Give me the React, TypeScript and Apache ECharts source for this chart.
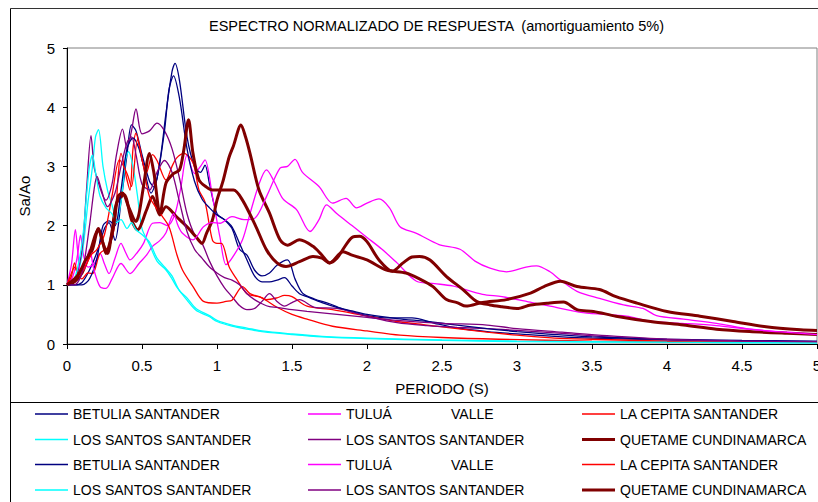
import { useEffect, useRef } from "react";
import * as echarts from "echarts";

// Normalised response spectra (5% damping): [period (s), Sa/Ao]
const betulia1: [number, number][] = [
  [0, 1.0], [0.05, 1.0], [0.1, 1.04], [0.15, 1.25], [0.2, 1.55], [0.25, 1.95], [0.28, 2.05], [0.32, 1.75],
  [0.36, 2.4], [0.4, 3.2], [0.43, 3.7], [0.46, 3.6], [0.5, 3.2], [0.55, 2.75], [0.58, 2.65], [0.62, 3.1],
  [0.66, 3.9], [0.7, 4.6], [0.72, 4.74], [0.75, 4.45], [0.8, 3.5], [0.85, 3.0], [0.89, 2.9], [0.92, 3.02],
  [0.95, 2.7], [1.0, 2.2], [1.05, 2.1], [1.1, 1.95], [1.15, 1.6], [1.2, 1.5], [1.25, 1.25], [1.3, 1.15],
  [1.35, 1.2], [1.4, 1.33], [1.47, 1.42], [1.52, 1.1], [1.57, 0.86], [1.65, 0.76], [1.75, 0.68], [1.85, 0.58],
  [2.0, 0.48], [2.15, 0.44], [2.3, 0.44], [2.45, 0.35], [2.6, 0.27], [2.8, 0.21], [3.0, 0.17], [3.25, 0.13],
  [3.5, 0.1], [4.0, 0.07], [4.5, 0.05], [5.0, 0.04],
];
const betulia2: [number, number][] = [
  [0, 1.0], [0.05, 1.0], [0.1, 1.0], [0.15, 1.1], [0.2, 1.45], [0.24, 2.0], [0.28, 2.08], [0.32, 2.0],
  [0.36, 2.6], [0.4, 3.3], [0.44, 3.48], [0.48, 3.3], [0.52, 2.9], [0.56, 2.55], [0.6, 2.8], [0.65, 3.6],
  [0.68, 4.3], [0.71, 4.53], [0.75, 4.15], [0.8, 3.3], [0.85, 2.75], [0.9, 2.45], [0.95, 2.3], [1.0, 2.18],
  [1.05, 2.1], [1.1, 1.98], [1.15, 1.7], [1.2, 1.42], [1.25, 1.15], [1.3, 1.05], [1.35, 1.05], [1.4, 1.08],
  [1.45, 1.12], [1.5, 0.98], [1.55, 0.85], [1.6, 0.8], [1.7, 0.7], [1.8, 0.62], [1.9, 0.56], [2.0, 0.5],
  [2.2, 0.43], [2.4, 0.38], [2.6, 0.32], [2.8, 0.26], [3.0, 0.21], [3.25, 0.16], [3.5, 0.12], [4.0, 0.08],
  [4.5, 0.06], [5.0, 0.05],
];
const tulua1: [number, number][] = [
  [0, 1.0], [0.04, 1.15], [0.07, 1.5], [0.09, 1.84], [0.11, 1.5], [0.14, 1.3], [0.18, 1.35], [0.22, 1.53],
  [0.25, 1.35], [0.28, 1.19], [0.32, 1.45], [0.36, 1.7], [0.39, 1.55], [0.42, 1.42], [0.47, 1.55], [0.51, 1.7],
  [0.57, 2.04], [0.62, 2.05], [0.67, 2.0], [0.72, 2.2], [0.76, 2.66], [0.8, 3.19], [0.85, 2.88], [0.89, 3.0],
  [0.92, 3.11], [0.97, 2.49], [1.02, 1.8], [1.06, 1.34], [1.1, 1.45], [1.17, 1.76], [1.22, 2.2], [1.28, 2.7],
  [1.33, 2.94], [1.38, 2.75], [1.44, 2.45], [1.53, 2.27], [1.62, 1.9], [1.68, 2.1], [1.73, 2.35], [1.8, 2.2],
  [1.9, 2.0], [2.0, 1.8], [2.1, 1.6], [2.2, 1.37], [2.33, 1.06], [2.45, 1.02], [2.57, 0.98], [2.77, 0.84],
  [2.9, 0.8], [3.1, 0.7], [3.22, 0.64], [3.44, 0.53], [3.73, 0.47], [3.9, 0.38], [4.1, 0.35], [4.33, 0.31],
  [4.55, 0.25], [4.8, 0.2], [5.0, 0.17],
];
const tulua2: [number, number][] = [
  [0, 1.0], [0.03, 1.35], [0.056, 1.93], [0.07, 1.6], [0.09, 1.2], [0.12, 1.3], [0.15, 1.6], [0.18, 1.25],
  [0.22, 0.97], [0.26, 0.94], [0.3, 1.1], [0.36, 1.36], [0.42, 1.19], [0.48, 1.36], [0.53, 1.5], [0.57, 1.65],
  [0.62, 1.75], [0.66, 1.88], [0.69, 2.1], [0.71, 2.2], [0.74, 2.0], [0.77, 1.87], [0.84, 1.76], [0.91, 1.98],
  [0.97, 2.05], [1.02, 2.04], [1.1, 2.15], [1.18, 2.1], [1.25, 2.12], [1.33, 2.49], [1.42, 2.97], [1.47, 3.0],
  [1.52, 3.12], [1.57, 2.9], [1.68, 2.66], [1.77, 2.38], [1.86, 2.46], [1.93, 2.3], [2.0, 2.38], [2.08, 2.45],
  [2.15, 2.3], [2.22, 1.98], [2.33, 1.87], [2.48, 1.68], [2.62, 1.6], [2.72, 1.4], [2.82, 1.28], [2.93, 1.22],
  [3.06, 1.3], [3.13, 1.32], [3.22, 1.22], [3.29, 1.08], [3.4, 0.89], [3.55, 0.77], [3.71, 0.66], [3.84, 0.6],
  [3.93, 0.48], [4.11, 0.42], [4.33, 0.35], [4.55, 0.25], [4.78, 0.2], [5.0, 0.16],
];
const cepita1: [number, number][] = [
  [0, 1.0], [0.03, 1.15], [0.05, 1.37], [0.07, 1.2], [0.1, 1.1], [0.14, 1.2], [0.17, 1.19], [0.22, 1.53],
  [0.28, 1.65], [0.32, 2.04], [0.34, 2.8], [0.36, 3.22], [0.4, 2.77], [0.42, 2.6], [0.44, 3.3], [0.46, 3.56],
  [0.5, 3.11], [0.53, 2.9], [0.57, 3.2], [0.6, 3.1], [0.66, 2.77], [0.7, 3.0], [0.73, 3.14], [0.78, 3.22],
  [0.84, 3.06], [0.88, 2.6], [0.92, 2.4], [0.97, 1.75], [1.0, 1.7], [1.03, 1.7], [1.08, 1.31], [1.13, 1.1],
  [1.2, 0.85], [1.28, 0.8], [1.33, 0.75], [1.4, 0.78], [1.45, 0.82], [1.5, 0.8], [1.6, 0.64], [1.77, 0.58],
  [2.0, 0.47], [2.2, 0.38], [2.4, 0.32], [2.6, 0.26], [2.8, 0.2], [3.0, 0.15], [3.25, 0.1], [3.5, 0.08],
  [4.0, 0.05], [4.5, 0.04], [5.0, 0.03],
];
const cepita2: [number, number][] = [
  [0, 1.0], [0.03, 1.2], [0.05, 1.3], [0.08, 1.15], [0.12, 1.3], [0.16, 1.5], [0.2, 1.6], [0.25, 1.85],
  [0.3, 2.5], [0.35, 3.11], [0.4, 2.88], [0.43, 2.66], [0.47, 3.45], [0.51, 3.0], [0.55, 2.49], [0.62, 2.21],
  [0.68, 1.98], [0.73, 1.53], [0.77, 1.25], [0.84, 0.97], [0.91, 0.72], [1.0, 0.69], [1.06, 0.72], [1.1, 0.74],
  [1.17, 0.97], [1.22, 0.85], [1.3, 0.78], [1.4, 0.62], [1.5, 0.5], [1.6, 0.42], [1.77, 0.3], [2.0, 0.22],
  [2.22, 0.15], [2.5, 0.11], [2.88, 0.08], [3.5, 0.05], [4.0, 0.04], [5.0, 0.03],
];
const santosCyan1: [number, number][] = [
  [0, 1.0], [0.05, 1.05], [0.1, 1.5], [0.14, 2.4], [0.17, 3.0], [0.19, 3.5], [0.21, 3.62], [0.24, 3.0],
  [0.27, 2.6], [0.3, 2.35], [0.33, 2.1], [0.36, 2.4], [0.39, 3.1], [0.41, 3.25], [0.44, 3.0], [0.47, 2.5],
  [0.5, 1.95], [0.55, 1.68], [0.6, 1.4], [0.66, 1.25], [0.7, 1.1], [0.73, 0.97], [0.8, 0.74], [0.86, 0.57],
  [0.95, 0.46], [1.0, 0.38], [1.1, 0.3], [1.2, 0.25], [1.3, 0.21], [1.5, 0.16], [1.7, 0.12], [2.0, 0.09],
  [2.5, 0.06], [3.0, 0.04], [4.0, 0.03], [5.0, 0.02],
];
const santosCyan2: [number, number][] = [
  [0, 1.0], [0.05, 1.1], [0.1, 1.7], [0.13, 2.5], [0.15, 3.0], [0.17, 3.19], [0.19, 2.9], [0.22, 2.5],
  [0.26, 2.3], [0.3, 2.2], [0.33, 2.05], [0.36, 2.1], [0.4, 1.95], [0.43, 2.05], [0.46, 1.93], [0.5, 1.85],
  [0.55, 1.72], [0.6, 1.45], [0.65, 1.3], [0.7, 1.15], [0.75, 0.9], [0.8, 0.78], [0.86, 0.6], [0.95, 0.48],
  [1.0, 0.4], [1.1, 0.32], [1.2, 0.27], [1.3, 0.22], [1.5, 0.17], [1.7, 0.13], [2.0, 0.1], [2.5, 0.07],
  [3.0, 0.05], [4.0, 0.03], [5.0, 0.02],
];
const santosPurple1: [number, number][] = [
  [0, 1.0], [0.05, 1.05], [0.1, 1.6], [0.13, 2.6], [0.16, 3.52], [0.18, 3.0], [0.2, 2.8], [0.24, 2.5],
  [0.26, 2.43], [0.3, 2.7], [0.33, 3.2], [0.37, 3.63], [0.4, 3.3], [0.43, 3.6], [0.46, 3.97], [0.5, 3.55],
  [0.55, 3.6], [0.6, 3.73], [0.65, 3.6], [0.7, 3.3], [0.75, 2.8], [0.8, 2.2], [0.85, 1.85], [0.9, 1.7],
  [0.95, 1.4], [1.0, 1.15], [1.05, 0.95], [1.1, 0.8], [1.15, 0.65], [1.2, 0.58], [1.25, 0.6], [1.3, 0.72],
  [1.35, 0.85], [1.4, 0.72], [1.45, 0.64], [1.5, 0.7], [1.55, 0.75], [1.65, 0.62], [1.8, 0.6], [2.0, 0.47],
  [2.2, 0.36], [2.4, 0.31], [2.6, 0.28], [2.8, 0.26], [3.0, 0.23], [3.3, 0.18], [3.6, 0.12], [4.0, 0.07],
  [4.5, 0.04], [5.0, 0.03],
];
const santosPurple2: [number, number][] = [
  [0, 1.0], [0.05, 1.0], [0.1, 1.2], [0.15, 2.0], [0.18, 2.6], [0.2, 2.83], [0.23, 2.6], [0.27, 2.32],
  [0.32, 2.55], [0.36, 3.0], [0.4, 3.4], [0.43, 3.5], [0.46, 3.2], [0.5, 2.7], [0.55, 2.6], [0.6, 2.9],
  [0.65, 3.1], [0.7, 2.9], [0.75, 2.4], [0.8, 1.9], [0.85, 1.6], [0.9, 1.45], [0.95, 1.3], [1.0, 1.2],
  [1.05, 1.12], [1.1, 1.08], [1.15, 1.0], [1.2, 0.85], [1.25, 0.75], [1.3, 0.68], [1.35, 0.63], [1.4, 0.62],
  [1.5, 0.58], [1.6, 0.55], [1.8, 0.5], [2.0, 0.45], [2.2, 0.4], [2.5, 0.35], [2.8, 0.32], [3.0, 0.26],
  [3.3, 0.2], [3.6, 0.14], [4.0, 0.08], [4.5, 0.05], [5.0, 0.04],
];
const quetame1: [number, number][] = [
  [0, 1.0], [0.05, 1.05], [0.1, 1.2], [0.14, 1.45], [0.17, 1.6], [0.21, 1.95], [0.24, 1.7], [0.27, 1.53],
  [0.3, 1.9], [0.33, 2.38], [0.38, 2.52], [0.43, 2.1], [0.47, 1.93], [0.53, 2.26], [0.57, 2.49], [0.62, 2.18],
  [0.66, 2.32], [0.73, 2.15], [0.8, 1.98], [0.86, 1.81], [0.9, 1.7], [0.93, 1.87], [0.97, 2.1], [1.0, 2.43],
  [1.04, 2.75], [1.08, 3.15], [1.11, 3.35], [1.16, 3.7], [1.19, 3.5], [1.22, 3.22], [1.28, 2.6], [1.35, 2.21],
  [1.42, 1.76], [1.47, 1.67], [1.55, 1.76], [1.64, 1.65], [1.7, 1.5], [1.75, 1.37], [1.8, 1.45], [1.84, 1.6],
  [1.9, 1.8], [1.95, 1.82], [2.0, 1.73], [2.08, 1.42], [2.17, 1.23], [2.24, 1.37], [2.3, 1.47], [2.35, 1.48],
  [2.42, 1.42], [2.53, 1.14], [2.64, 0.92], [2.73, 0.72], [2.82, 0.66], [2.9, 0.63], [3.0, 0.6], [3.09, 0.66],
  [3.2, 0.69], [3.31, 0.71], [3.4, 0.58], [3.51, 0.55], [3.66, 0.47], [3.89, 0.38], [4.11, 0.32], [4.33, 0.25],
  [4.55, 0.21], [4.8, 0.18], [5.0, 0.16],
];
const quetame2: [number, number][] = [
  [0, 1.0], [0.05, 1.1], [0.08, 1.19], [0.12, 1.4], [0.15, 1.53], [0.19, 1.85], [0.21, 1.93], [0.24, 1.7],
  [0.26, 1.53], [0.29, 1.75], [0.31, 1.98], [0.34, 2.49], [0.37, 2.55], [0.41, 2.32], [0.46, 2.07], [0.48, 2.2],
  [0.51, 2.66], [0.55, 3.22], [0.58, 2.88], [0.62, 2.21], [0.66, 2.72], [0.71, 2.88], [0.75, 2.94], [0.78, 3.3],
  [0.81, 3.79], [0.84, 3.22], [0.88, 2.77], [0.93, 2.65], [0.97, 2.6], [1.02, 2.6], [1.11, 2.6], [1.17, 2.43],
  [1.26, 1.98], [1.33, 1.59], [1.4, 1.37], [1.46, 1.31], [1.55, 1.39], [1.64, 1.48], [1.7, 1.45], [1.75, 1.37],
  [1.84, 1.56], [1.9, 1.5], [2.0, 1.42], [2.13, 1.25], [2.26, 1.2], [2.35, 1.1], [2.44, 0.97], [2.53, 0.75],
  [2.6, 0.7], [2.66, 0.64], [2.77, 0.7], [2.93, 0.75], [3.09, 0.86], [3.18, 0.97], [3.29, 1.06], [3.4, 0.97],
  [3.55, 0.92], [3.66, 0.8], [3.8, 0.69], [4.0, 0.55], [4.22, 0.47], [4.44, 0.38], [4.66, 0.29], [4.89, 0.24],
  [5.0, 0.23],
];

// Series in drawing / legend order (legend fills row by row, three per row)
const seriesNames = [
  "BETULIA SANTANDER", "TULUÁ          VALLE", "LA CEPITA SANTANDER",
  "LOS SANTOS SANTANDER", "LOS SANTOS SANTANDER", "QUETAME CUNDINAMARCA",
  "BETULIA SANTANDER", "TULUÁ          VALLE", "LA CEPITA SANTANDER",
  "LOS SANTOS SANTANDER", "LOS SANTOS SANTANDER", "QUETAME CUNDINAMARCA",
];
const seriesColors = [
  "#000080", "#FF00FF", "#FF0000", "#00FFFF", "#800080", "#800000",
  "#000080", "#FF00FF", "#FF0000", "#00FFFF", "#800080", "#800000",
];
const seriesWidths = [1.3, 1.3, 1.3, 1.3, 1.3, 3, 1.3, 1.3, 1.3, 1.3, 1.3, 3];
const seriesData = [
  betulia1, tulua1, cepita1, santosCyan1, santosPurple1, quetame1,
  betulia2, tulua2, cepita2, santosCyan2, santosPurple2, quetame2,
];

const titleText = "ESPECTRO NORMALIZADO DE RESPUESTA  (amortiguamiento 5%)";
const xAxisName = "PERIODO (S)";
const yAxisName = "Sa/Ao";

const FONT = "'Liberation Sans', Arial, sans-serif";

const legendColX = [35, 308, 582];
const legendRowY = [414, 439.5, 464.5, 490];

function buildLegend() {
  const items: any[] = [];
  seriesNames.forEach((name, i) => {
    const col = i % 3;
    const row = Math.floor(i / 3);
    const x = legendColX[col];
    const y = legendRowY[row];
    items.push({
      type: "line",
      silent: true,
      shape: { x1: x, y1: y, x2: x + 33, y2: y },
      style: { stroke: seriesColors[i], lineWidth: seriesWidths[i] > 2 ? 3 : 1.5 },
    });
    const parts = name.split(/\s{2,}/);
    parts.forEach((p, k) => {
      items.push({
        type: "text",
        silent: true,
        x: x + 38 + k * 105,
        y,
        style: {
          text: p,
          fill: "#000",
          fontSize: 14,
          fontFamily: FONT,
          align: "left",
          verticalAlign: "middle",
        },
      });
    });
  });
  return items;
}

export default function App() {
  const ref = useRef<HTMLDivElement>(null);

  useEffect(() => {
    if (!ref.current) return;
    const chart = echarts.init(ref.current, undefined, { renderer: "svg", width: 818, height: 502 });
    chart.setOption({
      animation: false,
      backgroundColor: "#fff",
      textStyle: { fontFamily: FONT },
      title: {
        text: titleText,
        left: 204,
        top: 13,
        textStyle: { fontSize: 14.5, fontWeight: "normal", color: "#000", fontFamily: FONT },
      },
      grid: {
        left: 67,
        top: 48,
        right: 1,
        bottom: 158,
        show: true,
        borderColor: "#808080",
        borderWidth: 1,
        containLabel: false,
        outerBoundsMode: "none",
      },
      xAxis: {
        type: "value",
        min: 0,
        max: 5,
        interval: 0.5,
        name: xAxisName,
        nameLocation: "middle",
        nameGap: 37,
        nameTextStyle: { fontSize: 15, color: "#000", fontFamily: FONT },
        axisLine: { lineStyle: { color: "#000", width: 1 } },
        axisTick: { show: true, length: 5, lineStyle: { color: "#000" } },
        axisLabel: { fontSize: 15, color: "#000", margin: 14, fontFamily: FONT, showMaxLabel: true },
        splitLine: { show: false },
      },
      yAxis: {
        type: "value",
        min: 0,
        max: 5,
        interval: 1,
        name: yAxisName,
        nameLocation: "middle",
        nameGap: 35,
        nameRotate: 90,
        nameTextStyle: { fontSize: 15, color: "#000", fontFamily: FONT },
        axisLine: { show: true, lineStyle: { color: "#000", width: 1 } },
        axisTick: { show: true, length: 4, lineStyle: { color: "#000" } },
        axisLabel: { fontSize: 15, color: "#000", margin: 12, fontFamily: FONT },
        splitLine: { show: false },
      },
      series: seriesData.map((data, i) => ({
        type: "line",
        id: "s" + i,
        name: seriesNames[i],
        data,
        showSymbol: false,
        symbol: "none",
        smooth: 0.3,
        lineStyle: { color: seriesColors[i], width: seriesWidths[i] },
        itemStyle: { color: seriesColors[i] },
        z: 2,
      })),
      graphic: [
        {
          type: "line",
          silent: true,
          shape: { x1: 10.5, y1: 8.5, x2: 818, y2: 8.5 },
          style: { stroke: "#333", lineWidth: 1 },
        },
        {
          type: "line",
          silent: true,
          shape: { x1: 10.5, y1: 8.5, x2: 10.5, y2: 502 },
          style: { stroke: "#000", lineWidth: 1 },
        },
        {
          type: "line",
          silent: true,
          shape: { x1: 10.5, y1: 402.5, x2: 818, y2: 402.5 },
          style: { stroke: "#000", lineWidth: 1 },
        },
        ...buildLegend(),
      ],
    });
    return () => chart.dispose();
  }, []);

  return (
    <div
      ref={ref}
      style={{ position: "absolute", left: 0, top: 0, width: 818, height: 502 }}
    />
  );
}
